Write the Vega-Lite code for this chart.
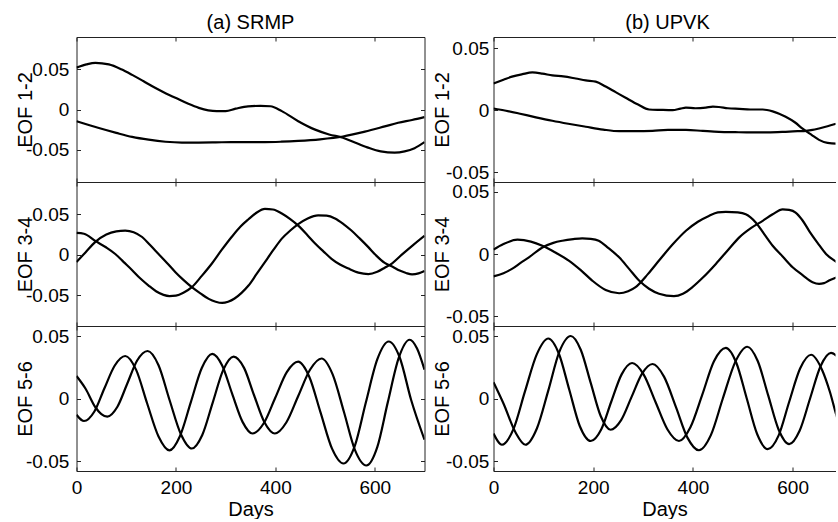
{
"$schema": "https://vega.github.io/schema/vega-lite/v6.json",
"background": "white",
"padding": {"left": 14.5, "top": 12, "right": 0, "bottom": 0},
"columns": 2,
"spacing": {"row": 0, "column": 69},
"bounds": "flush",
"align": "each",
"datasets": {
"a12": [
{"curve":"A","day":0,"value":0.052},{"curve":"A","day":20,"value":0.056},{"curve":"A","day":38,"value":0.058},{"curve":"A","day":65,"value":0.056},{"curve":"A","day":90,"value":0.050},{"curve":"A","day":112,"value":0.043},{"curve":"A","day":135,"value":0.035},{"curve":"A","day":158,"value":0.027},{"curve":"A","day":180,"value":0.020},{"curve":"A","day":199,"value":0.0145},{"curve":"A","day":225,"value":0.007},{"curve":"A","day":246,"value":0.002},{"curve":"A","day":265,"value":-0.001},{"curve":"A","day":282,"value":-0.002},{"curve":"A","day":300,"value":-0.002},{"curve":"A","day":320,"value":0.001},{"curve":"A","day":345,"value":0.004},{"curve":"A","day":370,"value":0.0045},{"curve":"A","day":390,"value":0.004},{"curve":"A","day":413,"value":-0.002},{"curve":"A","day":446,"value":-0.0145},{"curve":"A","day":480,"value":-0.025},{"curve":"A","day":508,"value":-0.031},{"curve":"A","day":536,"value":-0.035},{"curve":"A","day":560,"value":-0.041},{"curve":"A","day":585,"value":-0.047},{"curve":"A","day":612,"value":-0.052},{"curve":"A","day":640,"value":-0.0535},{"curve":"A","day":660,"value":-0.052},{"curve":"A","day":680,"value":-0.048},{"curve":"A","day":700,"value":-0.0405},
{"curve":"B","day":0,"value":-0.0145},{"curve":"B","day":45,"value":-0.023},{"curve":"B","day":80,"value":-0.029},{"curve":"B","day":112,"value":-0.034},{"curve":"B","day":145,"value":-0.0375},{"curve":"B","day":179,"value":-0.040},{"curve":"B","day":212,"value":-0.041},{"curve":"B","day":246,"value":-0.041},{"curve":"B","day":280,"value":-0.0408},{"curve":"B","day":312,"value":-0.0405},{"curve":"B","day":346,"value":-0.0405},{"curve":"B","day":379,"value":-0.0405},{"curve":"B","day":412,"value":-0.040},{"curve":"B","day":446,"value":-0.039},{"curve":"B","day":490,"value":-0.037},{"curve":"B","day":536,"value":-0.0335},{"curve":"B","day":580,"value":-0.0275},{"curve":"B","day":620,"value":-0.021},{"curve":"B","day":647,"value":-0.0165},{"curve":"B","day":675,"value":-0.013},{"curve":"B","day":700,"value":-0.0095}
],
"a34": [
{"curve":"A","day":0,"value":0.027},{"curve":"A","day":15,"value":0.026},{"curve":"A","day":38,"value":0.017},{"curve":"A","day":60,"value":0.009},{"curve":"A","day":78,"value":0.001},{"curve":"A","day":95,"value":-0.009},{"curve":"A","day":112,"value":-0.019},{"curve":"A","day":128,"value":-0.029},{"curve":"A","day":145,"value":-0.038},{"curve":"A","day":160,"value":-0.045},{"curve":"A","day":175,"value":-0.0495},{"curve":"A","day":187,"value":-0.051},{"curve":"A","day":200,"value":-0.0505},{"curve":"A","day":215,"value":-0.047},{"curve":"A","day":232,"value":-0.040},{"curve":"A","day":252,"value":-0.026},{"curve":"A","day":272,"value":-0.011},{"curve":"A","day":292,"value":0.006},{"curve":"A","day":312,"value":0.022},{"curve":"A","day":330,"value":0.035},{"curve":"A","day":346,"value":0.044},{"curve":"A","day":362,"value":0.052},{"curve":"A","day":379,"value":0.0567},{"curve":"A","day":395,"value":0.056},{"curve":"A","day":413,"value":0.051},{"curve":"A","day":430,"value":0.044},{"curve":"A","day":446,"value":0.036},{"curve":"A","day":465,"value":0.024},{"curve":"A","day":480,"value":0.014},{"curve":"A","day":497,"value":0.004},{"curve":"A","day":513,"value":-0.005},{"curve":"A","day":530,"value":-0.012},{"curve":"A","day":547,"value":-0.017},{"curve":"A","day":567,"value":-0.022},{"curve":"A","day":587,"value":-0.0238},{"curve":"A","day":605,"value":-0.021},{"curve":"A","day":620,"value":-0.016},{"curve":"A","day":635,"value":-0.0105},{"curve":"A","day":655,"value":0.0005},{"curve":"A","day":677,"value":0.012},{"curve":"A","day":700,"value":0.0235},
{"curve":"B","day":0,"value":-0.009},{"curve":"B","day":18,"value":0.003},{"curve":"B","day":38,"value":0.016},{"curve":"B","day":60,"value":0.025},{"curve":"B","day":80,"value":0.029},{"curve":"B","day":98,"value":0.030},{"curve":"B","day":115,"value":0.028},{"curve":"B","day":132,"value":0.022},{"curve":"B","day":148,"value":0.012},{"curve":"B","day":165,"value":0.001},{"curve":"B","day":182,"value":-0.010},{"curve":"B","day":199,"value":-0.0215},{"curve":"B","day":215,"value":-0.031},{"curve":"B","day":232,"value":-0.040},{"curve":"B","day":250,"value":-0.048},{"curve":"B","day":266,"value":-0.0545},{"curve":"B","day":280,"value":-0.058},{"curve":"B","day":293,"value":-0.0595},{"curve":"B","day":305,"value":-0.058},{"curve":"B","day":318,"value":-0.054},{"curve":"B","day":332,"value":-0.047},{"curve":"B","day":346,"value":-0.038},{"curve":"B","day":362,"value":-0.024},{"curve":"B","day":379,"value":-0.009},{"curve":"B","day":396,"value":0.006},{"curve":"B","day":413,"value":0.020},{"curve":"B","day":430,"value":0.030},{"curve":"B","day":446,"value":0.038},{"curve":"B","day":465,"value":0.045},{"curve":"B","day":486,"value":0.0488},{"curve":"B","day":503,"value":0.0485},{"curve":"B","day":520,"value":0.045},{"curve":"B","day":537,"value":0.038},{"curve":"B","day":553,"value":0.030},{"curve":"B","day":570,"value":0.020},{"curve":"B","day":587,"value":0.0095},{"curve":"B","day":603,"value":-0.001},{"curve":"B","day":620,"value":-0.010},{"curve":"B","day":635,"value":-0.0145},{"curve":"B","day":650,"value":-0.0195},{"curve":"B","day":663,"value":-0.0225},{"curve":"B","day":675,"value":-0.0242},{"curve":"B","day":688,"value":-0.023},{"curve":"B","day":700,"value":-0.020}
],
"a56": [
{"curve":"A","day":0,"value":0.018},{"curve":"A","day":18,"value":0.008},{"curve":"A","day":38,"value":-0.007},{"curve":"A","day":50,"value":-0.0125},{"curve":"A","day":62,"value":-0.0145},{"curve":"A","day":82,"value":-0.0068},{"curve":"A","day":102,"value":0.0118},{"curve":"A","day":122,"value":0.0304},{"curve":"A","day":143,"value":0.038},{"curve":"A","day":165,"value":0.0266},{"curve":"A","day":187,"value":-0.001},{"curve":"A","day":210,"value":-0.0286},{"curve":"A","day":232,"value":-0.040},{"curve":"A","day":253,"value":-0.0292},{"curve":"A","day":274,"value":-0.0033},{"curve":"A","day":295,"value":0.0227},{"curve":"A","day":316,"value":0.0335},{"curve":"A","day":337,"value":0.0245},{"curve":"A","day":357,"value":0.0028},{"curve":"A","day":378,"value":-0.019},{"curve":"A","day":399,"value":-0.028},{"curve":"A","day":422,"value":-0.0192},{"curve":"A","day":446,"value":0.002},{"curve":"A","day":470,"value":0.0232},{"curve":"A","day":493,"value":0.032},{"curve":"A","day":515,"value":0.0195},{"curve":"A","day":538,"value":-0.0108},{"curve":"A","day":560,"value":-0.0411},{"curve":"A","day":583,"value":-0.0536},{"curve":"A","day":605,"value":-0.0389},{"curve":"A","day":626,"value":-0.0033},{"curve":"A","day":648,"value":0.0323},{"curve":"A","day":670,"value":0.047},{"curve":"A","day":685,"value":0.040},{"curve":"A","day":700,"value":0.023},
{"curve":"B","day":0,"value":-0.013},{"curve":"B","day":15,"value":-0.018},{"curve":"B","day":36,"value":-0.0104},{"curve":"B","day":56,"value":0.008},{"curve":"B","day":77,"value":0.0264},{"curve":"B","day":98,"value":0.034},{"curve":"B","day":120,"value":0.0229},{"curve":"B","day":142,"value":-0.0038},{"curve":"B","day":165,"value":-0.0304},{"curve":"B","day":187,"value":-0.0415},{"curve":"B","day":208,"value":-0.0302},{"curve":"B","day":230,"value":-0.0029},{"curve":"B","day":252,"value":0.0244},{"curve":"B","day":273,"value":0.0357},{"curve":"B","day":293,"value":0.0264},{"curve":"B","day":313,"value":0.0039},{"curve":"B","day":334,"value":-0.0187},{"curve":"B","day":354,"value":-0.028},{"curve":"B","day":377,"value":-0.0196},{"curve":"B","day":400,"value":0.0008},{"curve":"B","day":423,"value":0.0211},{"curve":"B","day":446,"value":0.0295},{"curve":"B","day":468,"value":0.0176},{"curve":"B","day":491,"value":-0.0113},{"curve":"B","day":514,"value":-0.0401},{"curve":"B","day":537,"value":-0.052},{"curve":"B","day":560,"value":-0.0377},{"curve":"B","day":582,"value":-0.0032},{"curve":"B","day":605,"value":0.0313},{"curve":"B","day":628,"value":0.0456},{"curve":"B","day":650,"value":0.033},{"curve":"B","day":673,"value":-0.001},{"curve":"B","day":700,"value":-0.033}
],
"b12": [
{"curve":"A","day":0,"value":0.0215},{"curve":"A","day":20,"value":0.0245},{"curve":"A","day":37,"value":0.027},{"curve":"A","day":58,"value":0.029},{"curve":"A","day":78,"value":0.0304},{"curve":"A","day":98,"value":0.0295},{"curve":"A","day":118,"value":0.028},{"curve":"A","day":140,"value":0.0272},{"curve":"A","day":165,"value":0.0255},{"curve":"A","day":185,"value":0.024},{"curve":"A","day":205,"value":0.023},{"curve":"A","day":225,"value":0.019},{"curve":"A","day":245,"value":0.0145},{"curve":"A","day":265,"value":0.010},{"curve":"A","day":290,"value":0.0045},{"curve":"A","day":312,"value":0.0005},{"curve":"A","day":335,"value":0.0002},{"curve":"A","day":359,"value":0.0},{"curve":"A","day":375,"value":0.0012},{"curve":"A","day":386,"value":0.002},{"curve":"A","day":405,"value":0.0015},{"curve":"A","day":426,"value":0.002},{"curve":"A","day":440,"value":0.0028},{"curve":"A","day":452,"value":0.0025},{"curve":"A","day":470,"value":0.0015},{"curve":"A","day":493,"value":0.001},{"curve":"A","day":515,"value":0.0005},{"curve":"A","day":540,"value":0.0005},{"curve":"A","day":560,"value":-0.001},{"curve":"A","day":586,"value":-0.0054},{"curve":"A","day":605,"value":-0.010},{"curve":"A","day":620,"value":-0.015},{"curve":"A","day":638,"value":-0.020},{"curve":"A","day":653,"value":-0.024},{"curve":"A","day":670,"value":-0.0265},{"curve":"A","day":689,"value":-0.027},{"curve":"A","day":700,"value":-0.027},
{"curve":"B","day":0,"value":0.0013},{"curve":"B","day":25,"value":-0.0005},{"curve":"B","day":51,"value":-0.0027},{"curve":"B","day":85,"value":-0.0058},{"curve":"B","day":118,"value":-0.0086},{"curve":"B","day":150,"value":-0.011},{"curve":"B","day":185,"value":-0.0134},{"curve":"B","day":220,"value":-0.0157},{"curve":"B","day":252,"value":-0.017},{"curve":"B","day":285,"value":-0.017},{"curve":"B","day":319,"value":-0.0167},{"curve":"B","day":350,"value":-0.016},{"curve":"B","day":386,"value":-0.016},{"curve":"B","day":420,"value":-0.0168},{"curve":"B","day":452,"value":-0.0175},{"curve":"B","day":485,"value":-0.0178},{"curve":"B","day":519,"value":-0.018},{"curve":"B","day":550,"value":-0.018},{"curve":"B","day":586,"value":-0.0175},{"curve":"B","day":610,"value":-0.017},{"curve":"B","day":627,"value":-0.0167},{"curve":"B","day":640,"value":-0.016},{"curve":"B","day":653,"value":-0.0148},{"curve":"B","day":670,"value":-0.013},{"curve":"B","day":689,"value":-0.0108},{"curve":"B","day":700,"value":-0.0095}
],
"b34": [
{"curve":"A","day":0,"value":0.0035},{"curve":"A","day":20,"value":0.008},{"curve":"A","day":48,"value":0.0115},{"curve":"A","day":75,"value":0.010},{"curve":"A","day":98,"value":0.0067},{"curve":"A","day":125,"value":0.001},{"curve":"A","day":151,"value":-0.0053},{"curve":"A","day":175,"value":-0.013},{"curve":"A","day":198,"value":-0.0214},{"curve":"A","day":225,"value":-0.029},{"curve":"A","day":252,"value":-0.0316},{"curve":"A","day":270,"value":-0.030},{"curve":"A","day":285,"value":-0.0267},{"curve":"A","day":310,"value":-0.016},{"curve":"A","day":332,"value":-0.0053},{"curve":"A","day":360,"value":0.008},{"curve":"A","day":386,"value":0.0187},{"curve":"A","day":410,"value":0.026},{"curve":"A","day":432,"value":0.0307},{"curve":"A","day":450,"value":0.0335},{"curve":"A","day":466,"value":0.034},{"curve":"A","day":490,"value":0.0335},{"curve":"A","day":506,"value":0.032},{"curve":"A","day":526,"value":0.0254},{"curve":"A","day":543,"value":0.016},{"curve":"A","day":560,"value":0.0067},{"curve":"A","day":580,"value":-0.002},{"curve":"A","day":600,"value":-0.0107},{"curve":"A","day":620,"value":-0.017},{"curve":"A","day":640,"value":-0.0227},{"curve":"A","day":653,"value":-0.024},{"curve":"A","day":663,"value":-0.0235},{"curve":"A","day":673,"value":-0.0214},{"curve":"A","day":689,"value":-0.0187},{"curve":"A","day":700,"value":-0.0165},
{"curve":"B","day":0,"value":-0.018},{"curve":"B","day":20,"value":-0.0155},{"curve":"B","day":37,"value":-0.012},{"curve":"B","day":55,"value":-0.007},{"curve":"B","day":71,"value":-0.0027},{"curve":"B","day":98,"value":0.0053},{"curve":"B","day":120,"value":0.009},{"curve":"B","day":138,"value":0.0107},{"curve":"B","day":160,"value":0.012},{"curve":"B","day":178,"value":0.0126},{"curve":"B","day":195,"value":0.0122},{"curve":"B","day":211,"value":0.0107},{"curve":"B","day":230,"value":0.005},{"curve":"B","day":252,"value":-0.0027},{"curve":"B","day":272,"value":-0.012},{"curve":"B","day":292,"value":-0.0214},{"curve":"B","day":312,"value":-0.028},{"curve":"B","day":332,"value":-0.032},{"curve":"B","day":362,"value":-0.034},{"curve":"B","day":380,"value":-0.032},{"curve":"B","day":399,"value":-0.0267},{"curve":"B","day":420,"value":-0.019},{"curve":"B","day":446,"value":-0.008},{"curve":"B","day":470,"value":0.003},{"curve":"B","day":493,"value":0.0134},{"curve":"B","day":517,"value":0.021},{"curve":"B","day":540,"value":0.0267},{"curve":"B","day":560,"value":0.032},{"curve":"B","day":580,"value":0.036},{"curve":"B","day":593,"value":0.0355},{"curve":"B","day":606,"value":0.0334},{"curve":"B","day":620,"value":0.027},{"curve":"B","day":633,"value":0.0187},{"curve":"B","day":650,"value":0.009},{"curve":"B","day":667,"value":0.0},{"curve":"B","day":689,"value":-0.0067},{"curve":"B","day":700,"value":-0.010}
],
"b56": [
{"curve":"A","day":0,"value":0.013},{"curve":"A","day":20,"value":-0.004},{"curve":"A","day":44,"value":-0.027},{"curve":"A","day":64,"value":-0.037},{"curve":"A","day":87,"value":-0.024},{"curve":"A","day":110,"value":0.0065},{"curve":"A","day":132,"value":0.0373},{"curve":"A","day":155,"value":0.050},{"curve":"A","day":175,"value":0.039},{"curve":"A","day":195,"value":0.0125},{"curve":"A","day":215,"value":-0.014},{"curve":"A","day":235,"value":-0.025},{"curve":"A","day":256,"value":-0.0173},{"curve":"A","day":277,"value":0.0013},{"curve":"A","day":298,"value":0.0199},{"curve":"A","day":319,"value":0.0276},{"curve":"A","day":342,"value":0.0175},{"curve":"A","day":366,"value":-0.0069},{"curve":"A","day":389,"value":-0.0313},{"curve":"A","day":412,"value":-0.0414},{"curve":"A","day":436,"value":-0.0293},{"curve":"A","day":460,"value":0.0},{"curve":"A","day":485,"value":0.0293},{"curve":"A","day":509,"value":0.0414},{"curve":"A","day":530,"value":0.030},{"curve":"A","day":551,"value":0.0025},{"curve":"A","day":572,"value":-0.025},{"curve":"A","day":593,"value":-0.0365},{"curve":"A","day":614,"value":-0.0258},{"curve":"A","day":635,"value":0.0},{"curve":"A","day":656,"value":0.0258},{"curve":"A","day":677,"value":0.0365},{"curve":"A","day":700,"value":0.029},
{"curve":"B","day":0,"value":-0.028},{"curve":"B","day":17,"value":-0.037},{"curve":"B","day":40,"value":-0.0245},{"curve":"B","day":63,"value":0.0055},{"curve":"B","day":87,"value":0.0355},{"curve":"B","day":110,"value":0.048},{"curve":"B","day":131,"value":0.036},{"curve":"B","day":152,"value":0.007},{"curve":"B","day":173,"value":-0.022},{"curve":"B","day":195,"value":-0.034},{"curve":"B","day":216,"value":-0.0248},{"curve":"B","day":236,"value":-0.0028},{"curve":"B","day":257,"value":0.0193},{"curve":"B","day":278,"value":0.0284},{"curve":"B","day":301,"value":0.0193},{"curve":"B","day":325,"value":-0.0028},{"curve":"B","day":349,"value":-0.0248},{"curve":"B","day":372,"value":-0.034},{"curve":"B","day":395,"value":-0.023},{"curve":"B","day":419,"value":0.0033},{"curve":"B","day":442,"value":0.0296},{"curve":"B","day":466,"value":0.0405},{"curve":"B","day":487,"value":0.0286},{"curve":"B","day":508,"value":0.0},{"curve":"B","day":529,"value":-0.0286},{"curve":"B","day":550,"value":-0.0405},{"curve":"B","day":572,"value":-0.0295},{"curve":"B","day":593,"value":-0.0028},{"curve":"B","day":615,"value":0.024},{"curve":"B","day":637,"value":0.035},{"curve":"B","day":660,"value":0.022},{"curve":"B","day":675,"value":0.005},{"curve":"B","day":689,"value":-0.015},{"curve":"B","day":700,"value":-0.026}
]
},
"concat": [
{
"width": 348, "height": 145, "data": {"name": "a12"},
"title": {"text": "(a) SRMP", "frame": "group", "anchor": "middle", "baseline": "alphabetic", "offset": -12},
"layer": [
{"mark": {"type": "line", "color": "#000", "strokeWidth": 2.2, "interpolate": "monotone", "clip": true},
"encoding": {
"x": {"field": "day", "type": "quantitative", "scale": {"domain": [0, 700], "nice": false, "zero": false}, "axis": {"orient": "bottom", "values": [0, 200, 400, 600], "labels": false, "title": null}},
"y": {"field": "value", "type": "quantitative", "scale": {"domain": [-0.09, 0.09], "nice": false, "zero": false}, "axis": {"orient": "left", "values": [-0.05, 0, 0.05], "labelExpr": "datum.value == 0 ? '0' : (datum.value < 0 ? '-' : '') + format(abs(datum.value), '.2f')", "labelPadding": 11.7, "title": "EOF 1-2", "titleX": -45, "titleBaseline": "alphabetic"}},
"detail": {"field": "curve"}}},
{"mark": {"type": "line", "opacity": 0},
"encoding": {
"x": {"field": "day", "type": "quantitative", "axis": {"orient": "top", "values": [0, 200, 400, 600], "labels": false, "title": null}},
"y": {"field": "value", "type": "quantitative", "axis": {"orient": "right", "values": [-0.05, 0, 0.05], "labels": false, "title": null}},
"detail": {"field": "curve"}}}
],
"resolve": {"axis": {"x": "independent", "y": "independent"}}
},
{
"width": 342, "height": 145, "data": {"name": "b12"},
"title": {"text": "(b) UPVK", "frame": "group", "anchor": "middle", "baseline": "alphabetic", "offset": -12, "dx": 3},
"layer": [
{"mark": {"type": "line", "color": "#000", "strokeWidth": 2.2, "interpolate": "monotone", "clip": true},
"encoding": {
"x": {"field": "day", "type": "quantitative", "scale": {"domain": [0, 686], "nice": false, "zero": false}, "axis": {"orient": "bottom", "values": [0, 200, 400, 600], "labels": false, "title": null}},
"y": {"field": "value", "type": "quantitative", "scale": {"domain": [-0.058, 0.059], "nice": false, "zero": false}, "axis": {"orient": "left", "values": [-0.05, 0, 0.05], "labelExpr": "datum.value == 0 ? '0' : (datum.value < 0 ? '-' : '') + format(abs(datum.value), '.2f')", "labelPadding": 8.7, "title": "EOF 1-2", "titleX": -45, "titleBaseline": "alphabetic"}},
"detail": {"field": "curve"}}},
{"mark": {"type": "line", "opacity": 0},
"encoding": {
"x": {"field": "day", "type": "quantitative", "axis": {"orient": "top", "values": [0, 200, 400, 600], "labels": false, "title": null}},
"y": {"field": "value", "type": "quantitative", "axis": null},
"detail": {"field": "curve"}}}
],
"resolve": {"axis": {"x": "independent", "y": "independent"}}
},
{
"width": 348, "height": 144, "data": {"name": "a34"},
"layer": [
{"mark": {"type": "line", "color": "#000", "strokeWidth": 2.2, "interpolate": "monotone", "clip": true},
"encoding": {
"x": {"field": "day", "type": "quantitative", "scale": {"domain": [0, 700], "nice": false, "zero": false}, "axis": {"orient": "bottom", "values": [0, 200, 400, 600], "labels": false, "title": null}},
"y": {"field": "value", "type": "quantitative", "scale": {"domain": [-0.088, 0.09], "nice": false, "zero": false}, "axis": {"orient": "left", "values": [-0.05, 0, 0.05], "labelExpr": "datum.value == 0 ? '0' : (datum.value < 0 ? '-' : '') + format(abs(datum.value), '.2f')", "labelPadding": 11.7, "title": "EOF 3-4", "titleX": -45, "titleBaseline": "alphabetic"}},
"detail": {"field": "curve"}}},
{"mark": {"type": "line", "opacity": 0},
"encoding": {
"x": {"field": "day", "type": "quantitative", "axis": {"orient": "top", "values": [0, 200, 400, 600], "labels": false, "title": null}},
"y": {"field": "value", "type": "quantitative", "axis": {"orient": "right", "values": [-0.05, 0, 0.05], "labels": false, "title": null}},
"detail": {"field": "curve"}}}
],
"resolve": {"axis": {"x": "independent", "y": "independent"}}
},
{
"width": 342, "height": 144, "data": {"name": "b34"},
"layer": [
{"mark": {"type": "line", "color": "#000", "strokeWidth": 2.2, "interpolate": "monotone", "clip": true},
"encoding": {
"x": {"field": "day", "type": "quantitative", "scale": {"domain": [0, 686], "nice": false, "zero": false}, "axis": {"orient": "bottom", "values": [0, 200, 400, 600], "labels": false, "title": null}},
"y": {"field": "value", "type": "quantitative", "scale": {"domain": [-0.058, 0.058], "nice": false, "zero": false}, "axis": {"orient": "left", "values": [-0.05, 0, 0.05], "labelExpr": "datum.value == 0 ? '0' : (datum.value < 0 ? '-' : '') + format(abs(datum.value), '.2f')", "labelPadding": 8.7, "title": "EOF 3-4", "titleX": -45, "titleBaseline": "alphabetic"}},
"detail": {"field": "curve"}}},
{"mark": {"type": "line", "opacity": 0},
"encoding": {
"x": {"field": "day", "type": "quantitative", "axis": {"orient": "top", "values": [0, 200, 400, 600], "labels": false, "title": null}},
"y": {"field": "value", "type": "quantitative", "axis": null},
"detail": {"field": "curve"}}}
],
"resolve": {"axis": {"x": "independent", "y": "independent"}}
},
{
"width": 348, "height": 145, "data": {"name": "a56"},
"layer": [
{"mark": {"type": "line", "color": "#000", "strokeWidth": 2.2, "interpolate": "monotone", "clip": true},
"encoding": {
"x": {"field": "day", "type": "quantitative", "scale": {"domain": [0, 700], "nice": false, "zero": false}, "axis": {"orient": "bottom", "values": [0, 200, 400, 600], "labelPadding": 11, "title": "Days", "titleY": 44, "titleBaseline": "alphabetic"}},
"y": {"field": "value", "type": "quantitative", "scale": {"domain": [-0.058, 0.058], "nice": false, "zero": false}, "axis": {"orient": "left", "values": [-0.05, 0, 0.05], "labelExpr": "datum.value == 0 ? '0' : (datum.value < 0 ? '-' : '') + format(abs(datum.value), '.2f')", "labelPadding": 11.7, "title": "EOF 5-6", "titleX": -45, "titleBaseline": "alphabetic"}},
"detail": {"field": "curve"}}},
{"mark": {"type": "line", "opacity": 0},
"encoding": {
"x": {"field": "day", "type": "quantitative", "axis": {"orient": "top", "values": [0, 200, 400, 600], "labels": false, "title": null}},
"y": {"field": "value", "type": "quantitative", "axis": {"orient": "right", "values": [-0.05, 0, 0.05], "labels": false, "title": null}},
"detail": {"field": "curve"}}}
],
"resolve": {"axis": {"x": "independent", "y": "independent"}}
},
{
"width": 342, "height": 145, "data": {"name": "b56"},
"layer": [
{"mark": {"type": "line", "color": "#000", "strokeWidth": 2.2, "interpolate": "monotone", "clip": true},
"encoding": {
"x": {"field": "day", "type": "quantitative", "scale": {"domain": [0, 686], "nice": false, "zero": false}, "axis": {"orient": "bottom", "values": [0, 200, 400, 600], "labelPadding": 11, "title": "Days", "titleY": 44, "titleBaseline": "alphabetic"}},
"y": {"field": "value", "type": "quantitative", "scale": {"domain": [-0.058, 0.058], "nice": false, "zero": false}, "axis": {"orient": "left", "values": [-0.05, 0, 0.05], "labelExpr": "datum.value == 0 ? '0' : (datum.value < 0 ? '-' : '') + format(abs(datum.value), '.2f')", "labelPadding": 8.7, "title": "EOF 5-6", "titleX": -45, "titleBaseline": "alphabetic"}},
"detail": {"field": "curve"}}},
{"mark": {"type": "line", "opacity": 0},
"encoding": {
"x": {"field": "day", "type": "quantitative", "axis": {"orient": "top", "values": [0, 200, 400, 600], "labels": false, "title": null}},
"y": {"field": "value", "type": "quantitative", "axis": null},
"detail": {"field": "curve"}}}
],
"resolve": {"axis": {"x": "independent", "y": "independent"}}
}
],
"config": {
"font": "Liberation Sans",
"view": {"stroke": null},
"axis": {"grid": false, "domain": true, "domainColor": "#222", "domainWidth": 1, "ticks": true, "tickSize": -4, "tickColor": "#222", "tickWidth": 1, "labelFontSize": 19, "labelColor": "#000", "labelFlush": false, "labelOverlap": false, "titleFontSize": 20, "titleFontWeight": "normal", "titleColor": "#000"},
"title": {"fontSize": 20, "fontWeight": "normal", "color": "#000"}
}
}
